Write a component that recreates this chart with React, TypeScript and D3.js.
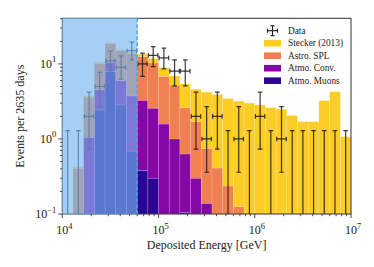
import React, { useEffect, useRef } from "react";
import * as d3 from "d3";

// 27 log bins between 1e4 and 1e7 GeV (9 per decade)
const nBins = 27;
const edges = d3.range(nBins + 1).map((i) => Math.pow(10, 4 + i / 9));
const thresholdBin = 7; // 60 TeV cut

// stacked MC expectation (events per bin)
const muons = [0, 0, 0, 2.44, 7.9, 2.84, 0.69, 0.38, 0.3, 0, 0, 0.105, 0, 0, 0, 0, 0, 0, 0, 0, 0, 0, 0, 0, 0, 0, 0];
const conv = [0, 0, 1.05, 2.06, 2.6, 3.16, 3.05, 2.9, 2.27, 1.58, 1.0, 0.525, 0.3, 0.139, 0, 0, 0, 0, 0, 0, 0, 0, 0, 0, 0, 0, 0];
const astro = [0, 0.4, 2.54, 5.65, 8.1, 8.95, 9.96, 9.22, 7.73, 5.22, 4.2, 1.97, 1.4, 0.61, 0.41, 0.236, 0.126, 0, 0, 0, 0, 0, 0, 0, 0, 0, 0];
const stecker = [0, 0.02, 0.15, 0.35, 0.5, 0.55, 0.6, 1.0, 1.5, 2.1, 1.7, 2.8, 2.9, 3.45, 3.49, 3.21, 3.07, 3.0, 2.84, 2.61, 2.49, 2.05, 1.7, 1.7, 3.24, 4.27, 1.07];

// observed events and their error intervals
const counts = [0, 0, 2, 5, 11, 9, 15, 10, 13, 12, 8, 8, 2, 1, 2, 0, 1, 0, 2, 0, 1, 0, 0, 0, 0, 0, 0];
const errLo = [0, 0, 0.73, 2.7, 8.07, 6.25, 11.3, 6.8, 9.2, 8.6, 5.1, 5.1, 0.73, 0.36, 0.73, 0, 0.36, 0, 0.73, 0, 0.36, 0, 0, 0, 0, 0, 0];
const errHi = [1.29, 1.29, 4.2, 7.7, 14.9, 12.8, 19.5, 13.9, 17, 16.2, 11.3, 11.3, 4.2, 2.7, 4.2, 1.29, 2.7, 1.29, 4.2, 1.29, 2.7, 1.29, 1.29, 1.29, 1.29, 1.29, 1.29];

const keys = ["muons", "conv", "astro", "stecker"];
const colors = { muons: "#2c0594", conv: "#8507a6", astro: "#f0804f", stecker: "#fccd25" };
const legendItems = [
  { key: "stecker", label: "Stecker (2013)" },
  { key: "astro", label: "Astro. SPL" },
  { key: "conv", label: "Atmo. Conv." },
  { key: "muons", label: "Atmo. Muons" },
];

const font = "'Liberation Serif', 'DejaVu Serif', serif";

export default function App() {
  const ref = useRef(null);

  useEffect(() => {
    const svg = d3.select(ref.current);
    svg.selectAll("*").remove();

    const left = 62.3, right = 351, top = 18.3, bottom = 214;
    const x = d3.scaleLog().domain([1e4, 1e7]).range([left, right]);
    const y = d3.scaleLog().domain([0.1, 40.5]).range([bottom, top]).clamp(true);

    svg.append("defs").append("clipPath").attr("id", "plotclip")
      .append("rect").attr("x", left).attr("y", top)
      .attr("width", right - left).attr("height", bottom - top);

    const rows = d3.range(nBins).map((i) => ({
      i, muons: muons[i], conv: conv[i], astro: astro[i], stecker: stecker[i],
    }));
    const series = d3.stack().keys(keys)(rows);

    const g = svg.append("g").attr("clip-path", "url(#plotclip)");
    series.forEach((s) => {
      g.selectAll(null)
        .data(s.filter((d) => d[1] - d[0] > 1e-6))
        .enter()
        .append("rect")
        .attr("x", (d) => x(edges[d.data.i]))
        .attr("width", (d) => x(edges[d.data.i + 1]) - x(edges[d.data.i]))
        .attr("y", (d) => y(d[1]))
        .attr("height", (d) => y(Math.max(d[0], 0.01)) - y(d[1]))
        .attr("fill", colors[s.key])
        .attr("stroke", "#ffffff")
        .attr("stroke-opacity", 0.25)
        .attr("stroke-width", 0.6);
    });

    // data error bars
    const ink = "#1a1a1a";
    const cap = 2.3;
    const eb = g.append("g").attr("stroke", ink).attr("stroke-opacity", 0.85).attr("stroke-width", 1.2);
    counts.forEach((c, i) => {
      const xl = x(edges[i]), xr = x(edges[i + 1]);
      const xc = (xl + xr) / 2;
      const yTop = y(errHi[i]);
      const yBot = errLo[i] > 0 ? y(errLo[i]) : bottom + 5;
      eb.append("line").attr("x1", xc).attr("x2", xc).attr("y1", yTop).attr("y2", yBot);
      eb.append("line").attr("x1", xc - cap).attr("x2", xc + cap).attr("y1", yTop).attr("y2", yTop);
      if (c > 0) {
        eb.append("line").attr("x1", xc - cap).attr("x2", xc + cap).attr("y1", yBot).attr("y2", yBot);
        const yc = y(c);
        eb.append("line").attr("x1", xl + 0.6).attr("x2", xr - 0.6).attr("y1", yc).attr("y2", yc);
        eb.append("line").attr("x1", xl + 0.6).attr("x2", xl + 0.6).attr("y1", yc - cap).attr("y2", yc + cap);
        eb.append("line").attr("x1", xr - 0.6).attr("x2", xr - 0.6).attr("y1", yc - cap).attr("y2", yc + cap);
      }
    });

    // frame
    svg.append("rect").attr("x", left).attr("y", top)
      .attr("width", right - left).attr("height", bottom - top)
      .attr("fill", "none").attr("stroke", "#333").attr("stroke-width", 1);

    // below-threshold shading
    const xt = x(edges[thresholdBin]);
    svg.append("rect").attr("x", left - 0.5).attr("y", top - 0.5)
      .attr("width", xt - left + 0.5).attr("height", bottom - top + 1)
      .attr("fill", "rgb(118,181,240)").attr("fill-opacity", 0.65);
    svg.append("line").attr("x1", xt).attr("x2", xt).attr("y1", top).attr("y2", bottom)
      .attr("stroke", "#3aa8ea").attr("stroke-width", 1.4).attr("stroke-dasharray", "4,2");

    // ticks
    const axis = svg.append("g").attr("stroke", "#333").attr("stroke-width", 0.9);
    const xMajor = [1e4, 1e5, 1e6, 1e7];
    const xMinor = [];
    [4, 5, 6].forEach((d) => d3.range(2, 10).forEach((m) => xMinor.push(m * Math.pow(10, d))));
    xMajor.forEach((v) => axis.append("line").attr("x1", x(v)).attr("x2", x(v)).attr("y1", bottom).attr("y2", bottom + 4));
    xMinor.forEach((v) => axis.append("line").attr("x1", x(v)).attr("x2", x(v)).attr("y1", bottom).attr("y2", bottom + 2.2));
    const yMajor = [0.1, 1, 10];
    const yMinor = [];
    [-1, 0, 1].forEach((d) => d3.range(2, 10).forEach((m) => {
      const v = m * Math.pow(10, d);
      if (v <= 40.5) yMinor.push(v);
    }));
    yMajor.forEach((v) => axis.append("line").attr("x1", left - 4).attr("x2", left).attr("y1", y(v)).attr("y2", y(v)));
    yMinor.forEach((v) => axis.append("line").attr("x1", left - 2.2).attr("x2", left).attr("y1", y(v)).attr("y2", y(v)));

    const sup = (sel, base, exp) => {
      sel.append("tspan").text(base);
      sel.append("tspan").attr("dy", -5.5).attr("font-size", 8.5).text(exp);
    };
    const xExp = ["4", "5", "6", "7"];
    xMajor.forEach((v, k) => {
      const t = svg.append("text").attr("x", x(v) + 2).attr("y", bottom + 20)
        .attr("text-anchor", "middle").attr("font-family", font).attr("font-size", 12).attr("fill", "#222");
      sup(t, "10", xExp[k]);
    });
    const yExp = ["\u22121", "0", "1"];
    yMajor.forEach((v, k) => {
      const t = svg.append("text").attr("x", left - 6).attr("y", y(v) + 4)
        .attr("text-anchor", "end").attr("font-family", font).attr("font-size", 12).attr("fill", "#222");
      sup(t, "10", yExp[k]);
    });

    svg.append("text").attr("x", (left + right) / 2).attr("y", 249)
      .attr("text-anchor", "middle").attr("font-family", font).attr("font-size", 12).attr("fill", "#222")
      .text("Deposited Energy [GeV]");
    svg.append("text").attr("transform", `translate(24,${(top + bottom) / 2}) rotate(-90)`)
      .attr("text-anchor", "middle").attr("font-family", font).attr("font-size", 12).attr("fill", "#222")
      .text("Events per 2635 days");

    // legend
    const lg = svg.append("g").attr("font-family", font).attr("font-size", 9.3).attr("fill", "#222");
    const lx = 264, lw = 17, ly0 = 30.7, dy = 12.5;
    const dx = lx + lw / 2;
    const lgEb = lg.append("g").attr("stroke", ink).attr("stroke-width", 1.1);
    lgEb.append("line").attr("x1", dx - 5).attr("x2", dx + 5).attr("y1", ly0).attr("y2", ly0);
    lgEb.append("line").attr("x1", dx).attr("x2", dx).attr("y1", ly0 - 5).attr("y2", ly0 + 5);
    [[dx - 5, ly0 - 2, dx - 5, ly0 + 2], [dx + 5, ly0 - 2, dx + 5, ly0 + 2], [dx - 2, ly0 - 5, dx + 2, ly0 - 5], [dx - 2, ly0 + 5, dx + 2, ly0 + 5]]
      .forEach((p) => lgEb.append("line").attr("x1", p[0]).attr("y1", p[1]).attr("x2", p[2]).attr("y2", p[3]));
    lg.append("text").attr("x", 288).attr("y", ly0 + 3).text("Data");
    legendItems.forEach((it, k) => {
      const yy = ly0 + dy * (k + 1);
      lg.append("rect").attr("x", lx).attr("y", yy - 3.3).attr("width", lw).attr("height", 6.6)
        .attr("fill", colors[it.key]);
      lg.append("text").attr("x", 288).attr("y", yy + 3).text(it.label);
    });
  }, []);

  return (
    <svg ref={ref} width={374} height={267} style={{ position: "absolute", left: 0, top: 0, background: "#fff" }} />
  );
}
